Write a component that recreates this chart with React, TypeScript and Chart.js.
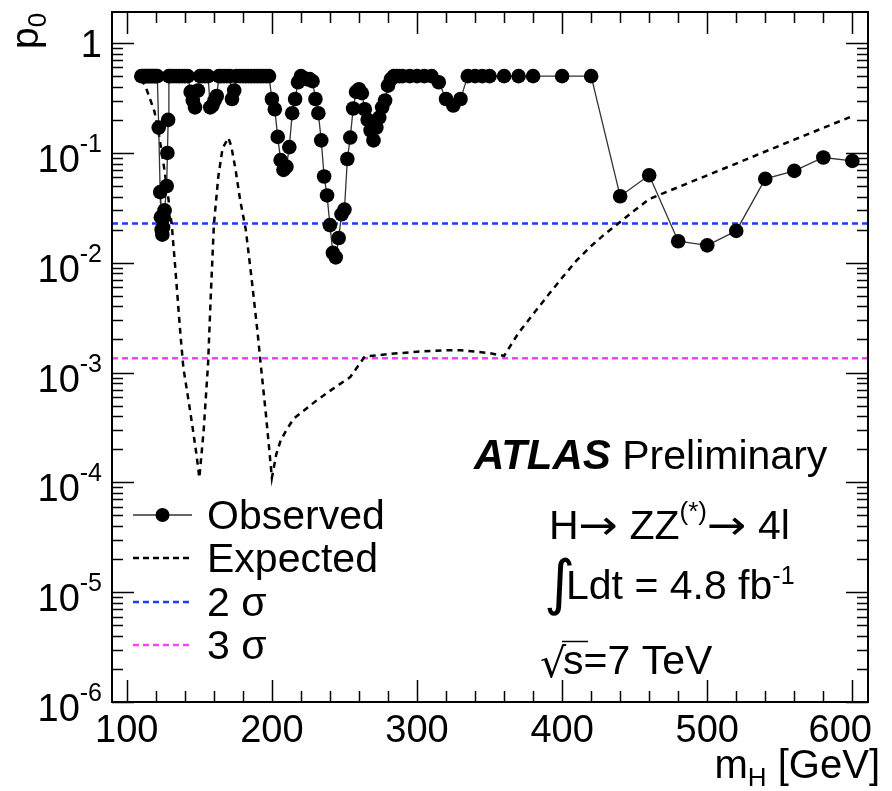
import React, { useEffect, useRef } from "react";
import { Chart, registerables } from "chart.js";

Chart.register(...registerables);

// ---------------- data ----------------
const obsMass = [
  110, 111, 112, 113, 114, 115, 116, 117, 118, 119, 120, 121, 122, 123, 123.5, 124, 124.5, 125, 125.5, 126,
  127.5, 128, 128.5, 129, 130, 132, 134, 136, 138, 140, 142, 144, 145.5, 147, 149, 150.5, 152, 154, 156, 157.5,
  159, 160.5, 162, 163.5, 165, 167, 169, 171, 172.5, 174, 175.5, 178, 180, 182, 184, 186, 188, 190, 192, 194,
  196, 198, 200, 202, 204, 206, 208, 210, 212, 214, 216, 218, 220, 222, 224, 226, 228, 230, 232, 234,
  236, 238, 240, 242, 244, 246, 248, 250, 252, 254, 256, 258, 260, 262, 264, 266, 268, 270, 272, 274,
  276, 278, 280, 282, 284, 286, 288, 290, 295, 300, 305, 310, 315, 320, 325, 330, 335, 340, 345, 350,
  360, 370, 380, 400, 420, 440, 460, 480, 500, 520, 540, 560, 580, 600,
];
const obsP0 = [
  0.5, 0.5, 0.5, 0.5, 0.5, 0.5, 0.5, 0.5, 0.5, 0.5, 0.5, 0.5, 0.17, 0.044, 0.026, 0.02, 0.018, 0.021, 0.026, 0.03,
  0.05, 0.1, 0.2, 0.5, 0.5, 0.5, 0.5, 0.5, 0.5, 0.5, 0.5, 0.36, 0.3, 0.26, 0.37, 0.5, 0.5, 0.5, 0.5, 0.26,
  0.27, 0.3, 0.33, 0.5, 0.5, 0.5, 0.5, 0.5, 0.31, 0.37, 0.5, 0.5, 0.5, 0.5, 0.5, 0.5, 0.5, 0.5, 0.5, 0.5,
  0.5, 0.5, 0.31, 0.25, 0.14, 0.086, 0.07, 0.075, 0.113, 0.23, 0.31, 0.44, 0.5, 0.48, 0.47, 0.47, 0.45, 0.31, 0.23, 0.13,
  0.061, 0.041, 0.022, 0.0123, 0.0112, 0.0168, 0.0276, 0.0305, 0.088, 0.138, 0.254, 0.36, 0.38, 0.35, 0.25, 0.2, 0.16, 0.13, 0.17, 0.21,
  0.26, 0.3, 0.41, 0.47, 0.5, 0.5, 0.5, 0.5, 0.5, 0.5, 0.5, 0.5, 0.44, 0.31, 0.27, 0.31, 0.5, 0.5, 0.5, 0.5,
  0.5, 0.5, 0.5, 0.5, 0.5, 0.0403, 0.0626, 0.0157, 0.0144, 0.0195, 0.058, 0.0686, 0.0908, 0.0845,
];

const expMass = [
  110, 113, 116, 119, 122, 125, 128, 131, 133, 135, 137, 139, 142, 145, 148, 150, 153, 156, 158, 160, 163,
  166, 170, 172, 175, 178, 182, 186, 190, 192, 196, 200, 203, 206, 210, 215, 220, 231, 242, 254, 264,
  280, 300, 320, 330, 340, 350, 360, 370, 380, 390, 400, 410, 420, 430, 440, 450, 460, 480, 500, 520,
  540, 560, 580, 600,
];
const expP0 = [
  0.47, 0.4, 0.31, 0.24, 0.15, 0.085, 0.045, 0.022, 0.0105, 0.0048, 0.0022, 0.0011, 0.00062, 0.00034, 0.00018, 0.00011, 0.0003, 0.0012, 0.0055, 0.022, 0.06,
  0.11, 0.137, 0.115, 0.07, 0.038, 0.02, 0.0072, 0.0024, 0.0013, 0.0004, 0.00011, 0.00018, 0.00024, 0.0003, 0.00038, 0.00043, 0.00056, 0.00071, 0.00091, 0.0014,
  0.00147, 0.00155, 0.0016, 0.0016, 0.00155, 0.0015, 0.00142, 0.0023, 0.0034, 0.005, 0.0073, 0.0105, 0.0142, 0.0185, 0.0235, 0.03, 0.038, 0.0488, 0.0625, 0.08,
  0.103, 0.132, 0.169, 0.216,
];

const sigma2 = 0.02275;
const sigma3 = 0.00135;
const xMin = 89.8;
const xMax = 610.8;
const yMin = 1e-6;
const yMax = 1.92;
const xMajorTicks = [100, 200, 300, 400, 500, 600];
const xTickLabels = ["100", "200", "300", "400", "500", "600"];
const yDecades = [-6, -5, -4, -3, -2, -1, 0];
const legendLabels = ["Observed", "Expected", "2 \u03c3", "3 \u03c3"];

const SANS = '"Liberation Sans", Arial, Helvetica, sans-serif';
const DJ = '"DejaVu Sans", sans-serif';
const TXT = 41;

type Part = { t: string; size: number; dy?: number; style?: string; family?: string; sx?: number };

function fontOf(p: Part) {
  return `${p.style ? p.style + " " : ""}${p.size}px ${p.family || SANS}`;
}
function partsWidth(ctx: CanvasRenderingContext2D, parts: Part[]) {
  let w = 0;
  for (const p of parts) {
    ctx.font = fontOf(p);
    w += ctx.measureText(p.t).width * (p.sx || 1);
  }
  return w;
}
function drawParts(ctx: CanvasRenderingContext2D, x: number, y: number, parts: Part[], align: "left" | "right" | "center" = "left") {
  const w = partsWidth(ctx, parts);
  let cx = align === "left" ? x : align === "right" ? x - w : x - w / 2;
  ctx.textAlign = "left";
  ctx.textBaseline = "alphabetic";
  for (const p of parts) {
    ctx.font = fontOf(p);
    const pw = ctx.measureText(p.t).width * (p.sx || 1);
    ctx.save();
    ctx.translate(cx, y + (p.dy || 0));
    ctx.scale(p.sx || 1, 1);
    ctx.fillText(p.t, 0, 0);
    ctx.restore();
    cx += pw;
  }
}

const framePlugin = {
  id: "rootFrame",
  afterDraw(chart: any) {
    const ctx: CanvasRenderingContext2D = chart.ctx;
    const xs = chart.scales.x;
    const ys = chart.scales.y;
    const a = chart.chartArea;
    ctx.save();
    ctx.fillStyle = "#000";
    ctx.strokeStyle = "#000";

    // frame
    ctx.lineWidth = 2;
    ctx.strokeRect(a.left, a.top, a.right - a.left, a.bottom - a.top);

    // x ticks
    ctx.lineWidth = 1.5;
    for (let v = 100; v <= 600; v += 20) {
      const px = Math.round(xs.getPixelForValue(v)) + 0.5;
      const len = v % 100 === 0 ? 22 : 11;
      ctx.beginPath();
      ctx.moveTo(px, a.bottom);
      ctx.lineTo(px, a.bottom - len);
      ctx.moveTo(px, a.top);
      ctx.lineTo(px, a.top + len);
      ctx.stroke();
    }
    // y ticks
    for (const e of yDecades) {
      for (let k = 1; k <= 9; k++) {
        const v = k * Math.pow(10, e);
        if (v > yMax || v < yMin) continue;
        const py = Math.round(ys.getPixelForValue(v)) + 0.5;
        const len = k === 1 ? 22 : 11;
        ctx.beginPath();
        ctx.moveTo(a.left, py);
        ctx.lineTo(a.left + len, py);
        ctx.moveTo(a.right, py);
        ctx.lineTo(a.right - len, py);
        ctx.stroke();
      }
    }

    // x tick labels
    ctx.font = `38px ${SANS}`;
    xMajorTicks.forEach((v, i) => {
      const px = xs.getPixelForValue(v);
      const w = ctx.measureText(xTickLabels[i]).width;
      let left = px - w / 2;
      if (left + w > 872) left = 872 - w;
      ctx.textAlign = "left";
      ctx.fillText(xTickLabels[i], left, 742);
    });

    // y tick labels
    for (const e of yDecades) {
      const py = ys.getPixelForValue(Math.pow(10, e));
      if (e === 0) {
        drawParts(ctx, 102, py + 14, [{ t: "1", size: 38 }], "right");
      } else {
        drawParts(ctx, 102, py + 19, [
          { t: "10", size: 38 },
          { t: "-" + String(-e), size: 25, dy: -20 },
        ], "right");
      }
    }

    // axis titles
    drawParts(ctx, 880, 778, [
      { t: "m", size: 40 },
      { t: "H", size: 26, dy: 8 },
      { t: " [GeV]", size: 40 },
    ], "right");
    ctx.save();
    ctx.translate(38, 49);
    ctx.rotate(-Math.PI / 2);
    drawParts(ctx, 0, 0, [
      { t: "p", size: 39 },
      { t: "0", size: 26, dy: 8 },
    ], "left");
    ctx.restore();

    // annotations
    drawParts(ctx, 474, 469, [
      { t: "ATLAS", size: TXT + 1, style: "italic bold" },
      { t: " Preliminary", size: TXT },
    ]);
    drawParts(ctx, 549, 539, [
      { t: "H", size: TXT },
      { t: "\u2192", size: TXT, family: DJ, sx: 1.15 },
      { t: " ZZ", size: TXT },
      { t: "(*)", size: 26, dy: -19 },
      { t: "\u2192", size: TXT, family: DJ, sx: 1.15 },
      { t: " 4l", size: TXT },
    ]);
    drawParts(ctx, 544, 603, [{ t: "\u222b", size: 60, family: DJ }]);
    drawParts(ctx, 566, 599, [
      { t: "Ldt = 4.8 fb", size: TXT },
      { t: "-1", size: 25, dy: -15 },
    ]);
    drawParts(ctx, 540, 677, [{ t: "\u221a", size: 41, family: DJ }]);
    ctx.lineWidth = 1.5;
    ctx.beginPath();
    ctx.moveTo(562, 641.5);
    ctx.lineTo(588, 641.5);
    ctx.stroke();
    drawParts(ctx, 563, 674, [{ t: "s=7 TeV", size: TXT }]);

    // legend
    const lx0 = 133, lx1 = 192, tx = 207;
    const rows = [515, 558, 602, 645];
    ctx.strokeStyle = "#333";
    ctx.lineWidth = 1.3;
    ctx.setLineDash([]);
    ctx.beginPath();
    ctx.moveTo(lx0, rows[0]);
    ctx.lineTo(lx1, rows[0]);
    ctx.stroke();
    ctx.beginPath();
    ctx.arc((lx0 + lx1) / 2, rows[0], 7, 0, Math.PI * 2);
    ctx.fillStyle = "#000";
    ctx.fill();
    const dashCols = ["#000", "#1a3dff", "#ff40ff"];
    for (let i = 1; i < 4; i++) {
      ctx.strokeStyle = dashCols[i - 1];
      ctx.lineWidth = 2.5;
      ctx.setLineDash([6, 4]);
      ctx.beginPath();
      ctx.moveTo(lx0, rows[i]);
      ctx.lineTo(lx1, rows[i]);
      ctx.stroke();
    }
    ctx.setLineDash([]);
    ctx.fillStyle = "#000";
    legendLabels.forEach((lab, i) => {
      drawParts(ctx, tx, rows[i] + 14, [{ t: lab, size: TXT }]);
    });
    ctx.restore();
  },
};

export default function App() {
  const ref = useRef<HTMLCanvasElement | null>(null);
  useEffect(() => {
    document.body.style.margin = "0";
    const canvas = ref.current!;
    const obs = obsMass.map((m, i) => ({ x: m, y: obsP0[i] }));
    const exp = expMass.map((m, i) => ({ x: m, y: expP0[i] }));
    const chart = new Chart(canvas, {
      type: "line",
      data: {
        datasets: [
          {
            label: legendLabels[0],
            data: obs,
            borderColor: "#333",
            borderWidth: 1.3,
            pointRadius: 7.3,
            pointBackgroundColor: "#000",
            pointBorderColor: "#000",
            pointBorderWidth: 0,
            tension: 0,
          },
          {
            label: legendLabels[1],
            data: exp,
            borderColor: "#000",
            borderWidth: 2.5,
            borderDash: [6, 5],
            pointRadius: 0,
            tension: 0,
          },
          {
            label: legendLabels[2],
            data: [{ x: xMin, y: sigma2 }, { x: xMax, y: sigma2 }],
            borderColor: "#1a3dff",
            borderWidth: 2.5,
            borderDash: [6, 4],
            pointRadius: 0,
          },
          {
            label: legendLabels[3],
            data: [{ x: xMin, y: sigma3 }, { x: xMax, y: sigma3 }],
            borderColor: "#ff40ff",
            borderWidth: 2.5,
            borderDash: [6, 4],
            pointRadius: 0,
          },
        ],
      },
      options: {
        animation: false,
        responsive: false,
        devicePixelRatio: 1,
        layout: { padding: { left: 112, top: 12, right: 24, bottom: 89 } },
        plugins: { legend: { display: false }, tooltip: { enabled: false }, title: { display: false } },
        scales: {
          x: { type: "linear", min: xMin, max: xMax, display: false },
          y: { type: "logarithmic", min: yMin, max: yMax, display: false },
        },
      },
      plugins: [framePlugin],
    } as any);
    return () => chart.destroy();
  }, []);
  return (
    <div style={{ position: "absolute", left: 0, top: 0, width: 892, height: 791, background: "#fff" }}>
      <canvas ref={ref} width={892} height={791} style={{ display: "block" }} />
    </div>
  );
}
